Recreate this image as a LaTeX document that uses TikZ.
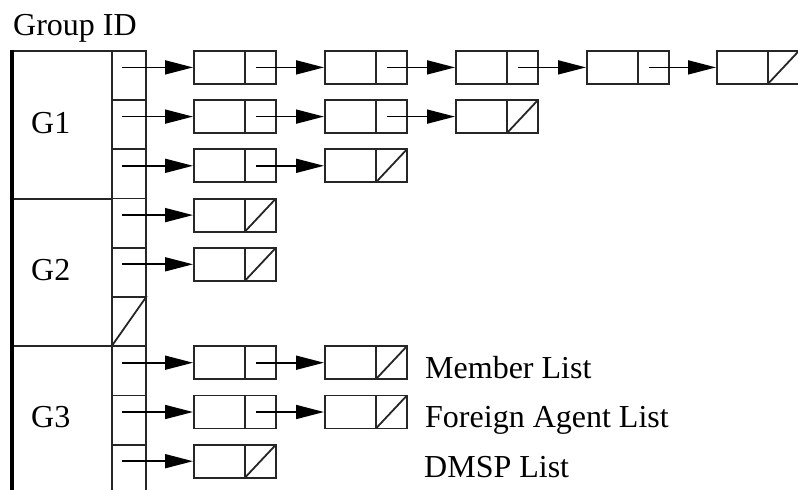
\documentclass[tikz,border=0pt]{standalone}
\usepackage{fontspec}
\setmainfont{Liberation Serif}
\usetikzlibrary{arrows.meta,calc}
\begin{document}
\begin{tikzpicture}[x=1pt,y=-1pt,
  box/.style={draw=black!85, line width=1.8pt},
  cell/.style={box, anchor=north west, minimum width=82pt, minimum height=33pt, inner sep=0pt,
    path picture={\draw[black!85, line width=1.8pt] ([xshift=51pt]path picture bounding box.north west) -- ([xshift=51pt]path picture bounding box.south west);}},
  nullcell/.style={box, anchor=north west, minimum width=82pt, minimum height=33pt, inner sep=0pt,
    path picture={\draw[black!85, line width=1.8pt] ([xshift=51pt]path picture bounding box.north west) -- ([xshift=51pt]path picture bounding box.south west) -- (path picture bounding box.north east);}},
  slot/.style={box, anchor=north west, minimum width=34pt, minimum height=49.2pt, inner sep=0pt},
  grp/.style={box, anchor=north west, minimum width=99pt, inner sep=0pt},
  arr/.style={line width=1.7pt, -{Triangle[length=28pt, width=14pt]}},
  lbl/.style={anchor=base west, inner sep=0pt, font=\fontsize{32}{36}\selectfont}
]
\useasboundingbox (0,0) rectangle (798,490);
% group boxes
\node[grp, minimum height=148pt] (g1) at (12,50) {};
\node[grp, minimum height=147pt] (g2) at (12,198) {};
\node[grp, minimum height=160pt] (g3) at (12,345) {};
\draw[line width=3.5pt] (g1.north west) -- (g3.south west);
% slots
\foreach \i in {1,...,9} {
  \node[slot] (s\i) at (111,{50+49.22*(\i-1)}) {};
}
\draw[box] (s6.south west) -- (s6.north east);
% texts
\node[lbl] (tg) at (13,35) {Group ID};
\node[lbl] (t1) at (31,133) {G1};
\node[lbl] (t2) at (31,280) {G2};
\node[lbl] (t3) at (31,427) {G3};
\node[lbl] (tm) at (425,378) {Member List};
\node[lbl] (tf) at (425,427) {Foreign Agent List};
\node[lbl] (td) at (424,477) {DMSP List};
% row 1
\node[cell] (c11) at (193,50) {};
\node[cell] (c12) at (324,50) {};
\node[cell] (c13) at (455,50) {};
\node[cell] (c14) at (586,50) {};
\node[nullcell] (c15) at (716,50) {};
% row 2
\node[cell] (c21) at (193,99.2) {};
\node[cell] (c22) at (324,99.2) {};
\node[nullcell] (c23) at (455,99.2) {};
% row 3
\node[cell] (c31) at (193,148.4) {};
\node[nullcell] (c32) at (324,148.4) {};
% row 4,5
\node[nullcell] (c41) at (193,197.7) {};
\node[nullcell] (c51) at (193,246.9) {};
% row 7,8,9
\node[cell] (c71) at (193,345.3) {};
\node[nullcell] (c72) at (324,345.3) {};
\node[cell] (c81) at (193,394.6) {};
\node[nullcell] (c82) at (324,394.6) {};
\node[nullcell] (c91) at (193,443.8) {};
% slot arrows
\foreach \s/\c in {1/11,2/21,3/31,4/41,5/51,7/71,8/81,9/91} {
  \draw[arr] ($(s\s.west |- c\c.west)+(11pt,0)$) -- (c\c.west);
}
% chain arrows
\foreach \a/\b in {11/12,12/13,13/14,14/15,21/22,22/23,31/32,71/72,81/82} {
  \draw[arr] ($(c\a.east)+(-21pt,0)$) -- (c\b.west);
}
\end{tikzpicture}
\end{document}
